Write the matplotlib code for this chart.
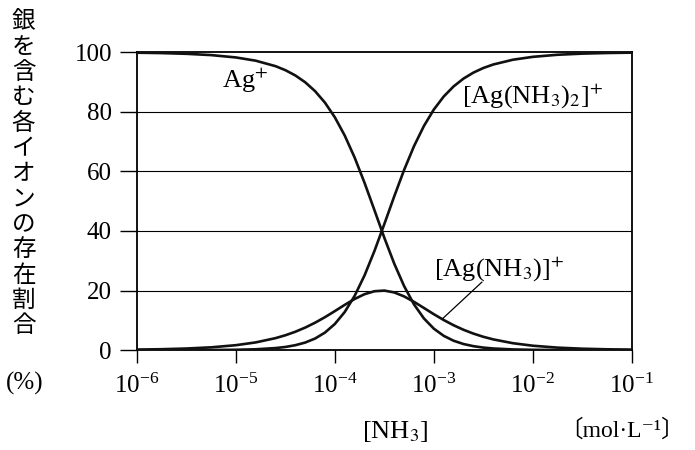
import numpy as np
import matplotlib.pyplot as plt

plt.rcParams['font.family'] = ['Liberation Serif', 'DejaVu Serif']
plt.rcParams['mathtext.fontset'] = 'stix'

# log10 [NH3] (mol/L) and fraction of each ion (%)
log_nh3 = [-6.0, -5.75, -5.5, -5.25, -5.0, -4.8, -4.6, -4.5, -4.4, -4.3, -4.2, -4.1,
           -4.0, -3.9, -3.8, -3.7, -3.6, -3.5, -3.4, -3.3, -3.2, -3.1, -3.0, -2.9,
           -2.8, -2.7, -2.6, -2.5, -2.4, -2.2, -2.0, -1.75, -1.5, -1.25, -1.0]
ag = [99.83, 99.70, 99.46, 99.03, 98.24, 97.15, 95.32, 93.97, 92.21, 89.92, 86.93, 83.07,
      78.14, 72.01, 64.63, 56.15, 46.98, 37.71, 29.03, 21.47, 15.33, 10.63, 7.20, 4.79,
      3.14, 2.04, 1.32, 0.84, 0.54, 0.22, 0.09, 0.03, 0.01, 0.0, 0.0]
ag_nh3 = [0.17, 0.30, 0.53, 0.93, 1.65, 2.58, 4.01, 4.98, 6.15, 7.55, 9.19, 11.05,
          13.09, 15.19, 17.16, 18.77, 19.76, 19.98, 19.36, 18.02, 16.20, 14.14, 12.05, 10.10,
          8.34, 6.82, 5.54, 4.47, 3.60, 2.31, 1.47, 0.83, 0.47, 0.27, 0.15]
ag_nh3_2 = [0.0, 0.0, 0.01, 0.04, 0.11, 0.27, 0.68, 1.05, 1.64, 2.53, 3.88, 5.88,
            8.77, 12.80, 18.21, 25.08, 33.26, 42.31, 51.61, 60.50, 68.47, 75.24, 80.75, 85.12,
            88.52, 91.14, 93.15, 94.69, 95.87, 97.48, 98.44, 99.14, 99.52, 99.73, 99.85]
yticks = [0, 20, 40, 60, 80, 100]

x = 10.0 ** np.array(log_nh3)

fig = plt.figure(figsize=(6.95, 4.5), dpi=100)
ax = fig.add_axes([0.197, 0.222, 0.712, 0.662])

for yv in yticks[1:-1]:
    ax.axhline(yv, color='black', lw=0.8, zorder=1)

for series in (ag, ag_nh3, ag_nh3_2):
    ax.plot(x, series, color='#111111', lw=1.9, zorder=3)

ax.set_xscale('log')
ax.set_xlim(1e-6, 1e-1)
ax.set_ylim(0, 100)
ax.set_yticks(yticks)
ax.set_xticks([1e-6, 1e-5, 1e-4, 1e-3, 1e-2, 1e-1])
ax.minorticks_off()
ax.tick_params(axis='y', direction='out', length=12, width=1, labelsize=18, pad=6)
ax.tick_params(axis='x', direction='out', length=9, width=1, labelsize=18, pad=8)
for s in ax.spines.values():
    s.set_linewidth(1.3)

# curve labels
ax.text(1.25e-5, 90.5, 'Ag$^{+}$', fontsize=19, ha='center', va='center')
ax.text(1.0e-2, 85.5, '[Ag(NH$_3$)$_2$]$^{+}$', fontsize=19, ha='center', va='center')
ax.text(4.6e-3, 27.5, '[Ag(NH$_3$)]$^{+}$', fontsize=19, ha='center', va='center')
ax.plot([10 ** -2.515, 10 ** -2.91], [22.8, 10.6], color='black', lw=0.9, zorder=4)

# vertical Japanese y label
ylabel = '銀を含む各イオンの存在割合'
for i, ch in enumerate(ylabel):
    fig.text(0.034, 1 - (22 + i * 25.3) / 450, ch, fontsize=17,
             family=['Noto Sans CJK JP'], ha='center', va='center')
fig.text(0.036, 1 - 383 / 450, '(%)', fontsize=18, ha='center', va='center')

fig.text(0.568, 1 - 432 / 450, '[NH$_3$]', fontsize=19, ha='center', va='center')
fig.text(0.985, 1 - 430 / 450, '〔mol·L⁻¹〕', fontsize=17, ha='right', va='center',
         family=['Liberation Serif', 'DejaVu Serif', 'Noto Sans CJK JP'])

fig.savefig('out.png', dpi=100)
